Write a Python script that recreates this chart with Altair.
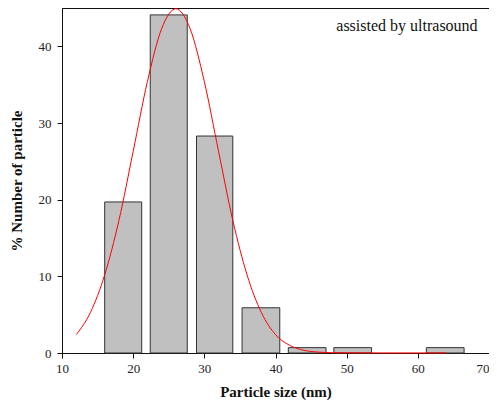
import altair as alt
import pandas as pd

# Histogram bars (left edge, right edge, % number)
bar_left = [16.0, 22.4, 28.9, 35.3, 41.8, 48.2, 61.2]
bar_right = [21.2, 27.6, 34.0, 40.6, 47.1, 53.5, 66.5]
bar_pct = [19.7, 44.1, 28.3, 5.9, 0.7, 0.7, 0.7]

# Fitted distribution curve
curve_x = [12, 14, 16, 18, 20, 22, 24, 26, 28, 30, 32, 34, 36, 38, 40, 42, 44, 46, 48, 50, 55, 60, 64]
curve_y = [2.4, 5.3, 10.2, 17.3, 26.3, 35.4, 42.3, 44.9, 42.3, 35.4, 26.3, 17.3, 10.2, 5.3, 2.4, 1.0, 0.35, 0.12, 0.04, 0.02, 0.01, 0.01, 0.01]

label_text = ["assisted by ultrasound"]
label_x = [68.4]
label_y = [42.7]

bars = pd.DataFrame({"x": bar_left, "x2": bar_right, "y": bar_pct})
curve = pd.DataFrame({"x": curve_x, "y": curve_y})
lab = pd.DataFrame({"t": label_text, "x": label_x, "y": label_y})

FONT = "Liberation Serif"

xscale = alt.Scale(domain=[10, 70], nice=False, zero=False)
yscale = alt.Scale(domain=[0, 45], nice=False)

xaxis = alt.Axis(
    title="Particle size (nm)",
    values=list(range(10, 71, 5)),
    labelExpr="datum.value % 10 == 0 ? datum.label : ''",
    labelAlign={"condition": {"test": "datum.value == 70", "value": "right"}, "value": "center"},
    grid=False, tickSize=5, labelPadding=4, titlePadding=9,
    labelFont=FONT, labelFontSize=13, labelColor="#222",
    titleFont=FONT, titleFontSize=15, titleFontWeight="bold", titleColor="#111",
    domainColor="#111", tickColor="#111", labelFlush=False,
)
yaxis = alt.Axis(
    title="% Number of particle",
    values=list(range(0, 46, 5)),
    labelExpr="datum.value % 10 == 0 ? datum.label : ''",
    grid=False, tickSize=5, labelPadding=6, titlePadding=14,
    labelFont=FONT, labelFontSize=13, labelColor="#222",
    titleFont=FONT, titleFontSize=15, titleFontWeight="bold", titleColor="#111",
    domainColor="#111", tickColor="#111", labelFlush=False,
)

bar_chart = alt.Chart(bars).mark_rect(fill="#C0C0C0", stroke="#333", strokeWidth=1).encode(
    x=alt.X("x:Q", scale=xscale, axis=xaxis),
    x2="x2:Q",
    y=alt.Y("y:Q", scale=yscale, axis=yaxis),
    y2=alt.datum(0),
)

line_chart = alt.Chart(curve).mark_line(color="#FF0000", strokeWidth=1, interpolate="monotone").encode(
    x=alt.X("x:Q", scale=xscale),
    y=alt.Y("y:Q", scale=yscale),
)

text_chart = alt.Chart(lab).mark_text(
    font=FONT, fontSize=16, align="right", baseline="middle", color="#111"
).encode(
    x=alt.X("x:Q", scale=xscale),
    y=alt.Y("y:Q", scale=yscale),
    text="t:N",
)

chart = alt.layer(bar_chart, line_chart, text_chart).properties(
    width=427, height=345,
    autosize=alt.AutoSizeParams(type="none"),
    padding={"left": 54, "top": 0, "right": 0, "bottom": 47},
).configure_view(stroke="#111", strokeWidth=1)

chart.save("out.html", embed_options={"renderer": "svg", "actions": False})
